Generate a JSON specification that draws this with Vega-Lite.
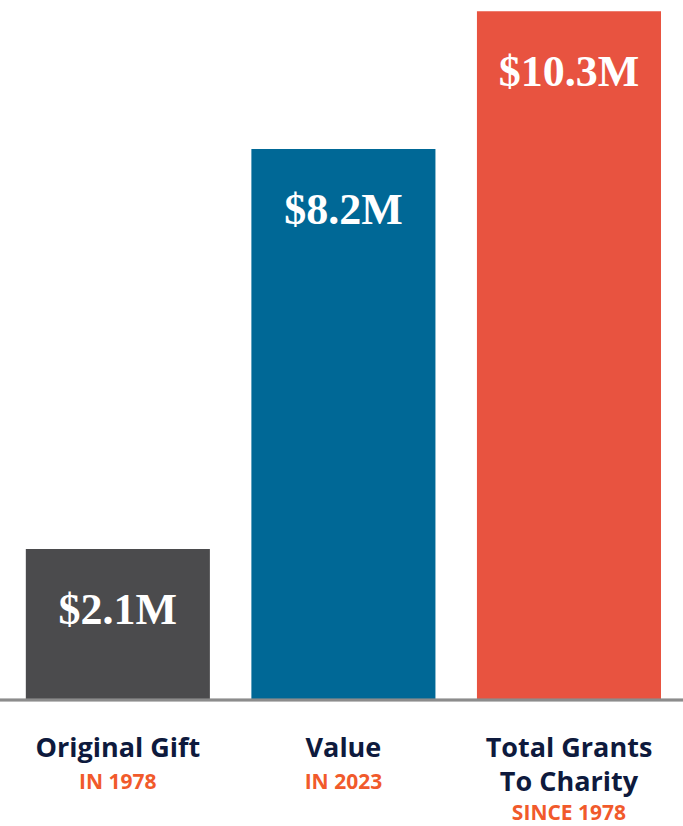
{
  "$schema": "https://vega.github.io/schema/vega-lite/v6.json",
  "width": 683,
  "height": 700,
  "autosize": {"type": "none"},
  "padding": {"left": 0, "right": 0, "top": 0, "bottom": 126},
  "background": "white",
  "config": {"view": {"stroke": null}},
  "data": {
    "values": [
      {"category": "Original Gift", "title": "Original Gift", "sub": "IN 1978", "lines": 1, "value": 2.1, "label": "$2.1M", "color": "#4b4b4d"},
      {"category": "Value", "title": "Value", "sub": "IN 2023", "lines": 1, "value": 8.2, "label": "$8.2M", "color": "#006896"},
      {"category": "Total Grants", "title": "Total Grants\nTo Charity", "sub": "SINCE 1978", "lines": 2, "value": 10.3, "label": "$10.3M", "color": "#e85340"}
    ]
  },
  "encoding": {
    "x": {
      "field": "category",
      "type": "nominal",
      "sort": null,
      "axis": null,
      "scale": {"paddingInner": 0.184, "paddingOuter": 0.106, "align": 0.54}
    }
  },
  "layer": [
    {
      "mark": {"type": "bar"},
      "encoding": {
        "y": {"field": "value", "type": "quantitative", "axis": null, "scale": {"domain": [-0.2, 10.47], "nice": false, "zero": false}},
        "y2": {"datum": -0.2},
        "color": {"field": "color", "type": "nominal", "scale": null, "legend": null}
      }
    },
    {
      "mark": {"type": "rule", "color": "#8c8c8c", "strokeWidth": 2.5},
      "encoding": {"y": {"datum": -0.2}, "x": {"value": 0}, "x2": {"value": 683}}
    },
    {
      "mark": {"type": "text", "font": "Liberation Serif", "fontWeight": "bold", "fontSize": 44, "color": "white", "baseline": "middle", "dy": 62},
      "encoding": {
        "y": {"field": "value", "type": "quantitative"},
        "text": {"field": "label"}
      }
    },
    {
      "mark": {"type": "text", "font": "Open Sans", "fontWeight": "bold", "fontSize": 27, "color": "#0e1a3d", "baseline": "alphabetic", "dy": 57, "lineBreak": "\n", "lineHeight": 34},
      "encoding": {
        "y": {"datum": -0.2},
        "text": {"field": "title"}
      }
    },
    {
      "transform": [{"filter": "datum.lines == 1"}],
      "mark": {"type": "text", "font": "Open Sans", "fontWeight": "bold", "fontSize": 21, "color": "#f15a2b", "baseline": "alphabetic", "dy": 89},
      "encoding": {
        "y": {"datum": -0.2},
        "text": {"field": "sub"}
      }
    },
    {
      "transform": [{"filter": "datum.lines == 2"}],
      "mark": {"type": "text", "font": "Open Sans", "fontWeight": "bold", "fontSize": 21, "color": "#f15a2b", "baseline": "alphabetic", "dy": 120},
      "encoding": {
        "y": {"datum": -0.2},
        "text": {"field": "sub"}
      }
    }
  ]
}
